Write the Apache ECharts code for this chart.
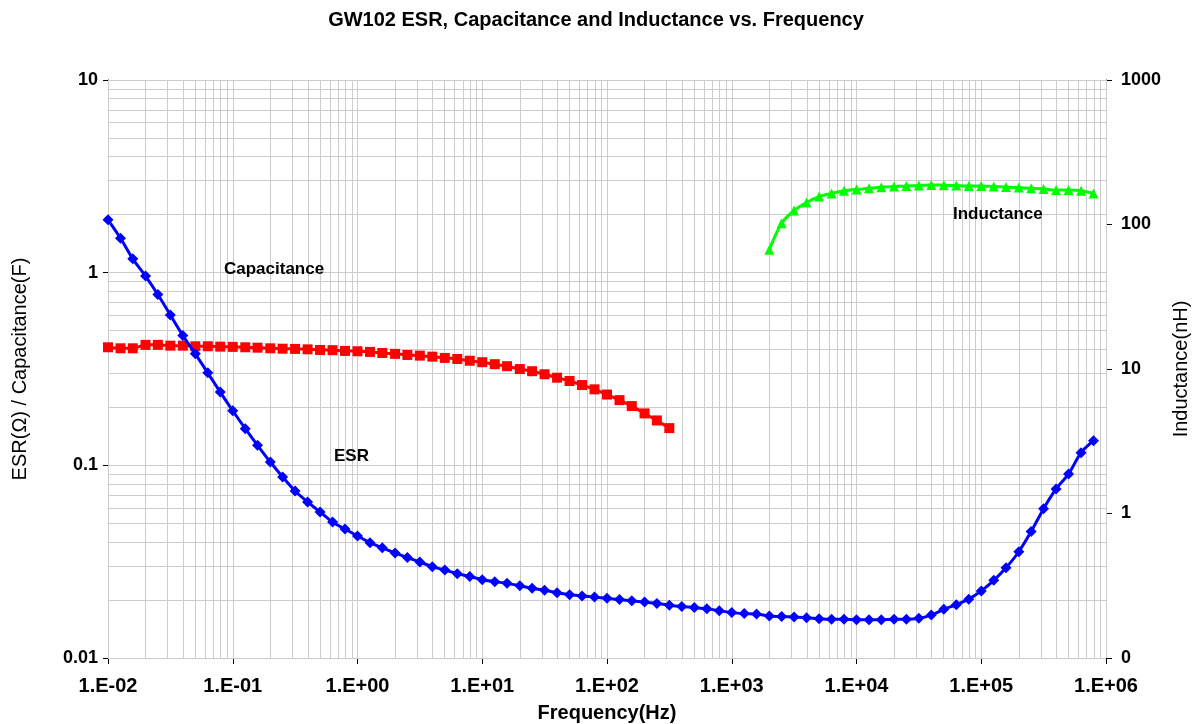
<!DOCTYPE html>
<html><head><meta charset="utf-8">
<script src="https://cdn.jsdelivr.net/npm/echarts@6/dist/echarts.min.js"></script>
<style>html,body{margin:0;padding:0;background:#fff}#c{width:1192px;height:724px}</style>
</head><body><div id="c"></div>
<script>
// Frequencies (Hz), 10 points per decade
const frequencies = [
  1e-2,1.26e-2,1.58e-2,2e-2,2.51e-2,3.16e-2,3.98e-2,5.01e-2,6.31e-2,7.94e-2,
  1e-1,1.26e-1,1.58e-1,2e-1,2.51e-1,3.16e-1,3.98e-1,5.01e-1,6.31e-1,7.94e-1,
  1,1.26,1.58,2,2.51,3.16,3.98,5.01,6.31,7.94,
  10,12.6,15.8,20,25.1,31.6,39.8,50.1,63.1,79.4,
  100,126,158,200,251,316,398,501,631,794,
  1000,1260,1580,2000,2510,3160,3980,5010,6310,7940,
  1e4,1.26e4,1.58e4,2e4,2.51e4,3.16e4,3.98e4,5.01e4,6.31e4,7.94e4,
  1e5,1.26e5,1.58e5,2e5,2.51e5,3.16e5,3.98e5,5.01e5,6.31e5,7.94e5
];
// ESR (Ohm)
const esrValues = [
  1.88,1.51,1.18,0.96,0.77,0.603,0.472,0.379,0.302,0.240,
  0.192,0.155,0.127,0.104,0.0871,0.0736,0.0646,0.0573,0.0508,0.0467,
  0.0430,0.0397,0.0373,0.0351,0.0332,0.0315,0.0298,0.0286,0.0274,0.0265,
  0.0255,0.0249,0.0244,0.0237,0.0230,0.0225,0.0218,0.0213,0.0210,0.0207,
  0.0204,0.0201,0.0198,0.0195,0.0192,0.0188,0.0185,0.0183,0.0180,0.0176,
  0.0172,0.0170,0.0169,0.0165,0.0164,0.0163,0.0162,0.0160,0.0159,0.0159,
  0.0158,0.0158,0.0158,0.0159,0.0159,0.0161,0.0167,0.0179,0.0189,0.0202,
  0.0223,0.0253,0.0294,0.0356,0.0453,0.0596,0.0754,0.0902,0.1164,0.1343
];
// Capacitance (F), from 0.01 Hz to 316 Hz
const capFreq = frequencies.slice(0, 46);
const capValues = [
  0.410,0.405,0.405,0.422,0.422,0.418,0.418,0.415,0.415,0.413,
  0.412,0.410,0.408,0.405,0.403,0.402,0.400,0.397,0.396,0.3925,
  0.391,0.388,0.383,0.379,0.374,0.371,0.3665,0.361,0.3565,0.349,
  0.343,0.335,0.327,0.316,0.308,0.297,0.285,0.274,0.261,0.248,
  0.233,0.218,0.203,0.186,0.171,0.156
];
// Inductance (nH), from 2 kHz to 794 kHz
const indFreq = frequencies.slice(53);
const indValues = [
  67,102,125,142,156,164,171,175,178,181,
  183,185,186,188,187,186,185,185,183,182,
  180,178,176,173,173,171,164
];
const xTickLabels = ['1.E-02','1.E-01','1.E+00','1.E+01','1.E+02','1.E+03','1.E+04','1.E+05','1.E+06'];
const leftTickLabels = ['0.01','0.1','1','10'];
const rightTickLabels = ['0','1','10','100','1000'];

// grid line values (1..9 x each decade)
const gridX = [];
for (let k = -2; k < 6; k++) for (let m = 1; m <= 9; m++) gridX.push(+(m * Math.pow(10, k)).toPrecision(3));
gridX.push(1e6);
const gridY = [];
for (let k = -2; k < 1; k++) for (let m = 1; m <= 9; m++) gridY.push(+(m * Math.pow(10, k)).toPrecision(3));
gridY.push(10);

const FONT = '"Liberation Sans", Arial, sans-serif';
const gridColor = '#cccccc';

const chart = echarts.init(document.getElementById('c'));
chart.setOption({
  animation: false,
  backgroundColor: '#fff',
  title: {
    text: 'GW102 ESR, Capacitance and Inductance vs. Frequency',
    left: 'center', top: 5,
    textStyle: { fontFamily: FONT, fontSize: 20, fontWeight: 'bold', color: '#000' }
  },
  grid: { left: 108, right: 86, top: 80, bottom: 66, containLabel: false, outerBoundsMode: 'none' },
  xAxis: {
    type: 'log', logBase: 10, min: 0.01, max: 1e6, splitNumber: 8,
    name: 'Frequency(Hz)', nameLocation: 'middle', nameGap: 45,
    nameTextStyle: { fontFamily: FONT, fontSize: 20, fontWeight: 'bold', color: '#000' },
    axisLine: { show: true, lineStyle: { color: '#000', width: 1 } },
    axisTick: { show: true, length: 6, lineStyle: { color: '#000' } },
    axisLabel: {
      fontFamily: FONT, fontSize: 20, fontWeight: 'bold', color: '#000', margin: 18,
      formatter: v => xTickLabels[Math.round(Math.log10(v)) + 2]
    },
    splitLine: { show: false }, minorTick: { show: false }, minorSplitLine: { show: false }
  },
  yAxis: [{
    type: 'log', logBase: 10, min: 0.01, max: 10, position: 'left', splitNumber: 3,
    name: 'ESR(Ω) / Capacitance(F)', nameLocation: 'middle', nameGap: 78, nameRotate: 90,
    nameTextStyle: { fontFamily: FONT, fontSize: 20, color: '#000' },
    axisLine: { show: true, lineStyle: { color: '#000', width: 1 } },
    axisTick: { show: true, length: 5, lineStyle: { color: '#000' } },
    axisLabel: { fontFamily: FONT, fontSize: 18, fontWeight: 'bold', color: '#000', margin: 10,
      formatter: v => leftTickLabels[Math.round(Math.log10(v)) + 2] },
    splitLine: { show: false }, minorTick: { show: false }, minorSplitLine: { show: false }
  }, {
    type: 'log', logBase: 10, min: 0.1, max: 1000, position: 'right', splitNumber: 4,
    name: 'Inductance(nH)', nameLocation: 'middle', nameGap: 61, nameRotate: 90,
    nameTextStyle: { fontFamily: FONT, fontSize: 20, color: '#000' },
    axisLine: { show: true, lineStyle: { color: '#000', width: 1 } },
    axisTick: { show: true, length: 6, lineStyle: { color: '#000' } },
    axisLabel: { fontFamily: FONT, fontSize: 18, fontWeight: 'bold', color: '#000', margin: 15,
      formatter: v => rightTickLabels[Math.round(Math.log10(v)) + 1] },
    splitLine: { show: false }, minorTick: { show: false }, minorSplitLine: { show: false }
  }],
  graphic: [
    { type: 'text', left: 224, top: 261, z: 100, style: { text: 'Capacitance', font: 'bold 17px ' + FONT, fill: '#000' } },
    { type: 'text', left: 334, top: 448, z: 100, style: { text: 'ESR', font: 'bold 17px ' + FONT, fill: '#000' } },
    { type: 'text', left: 953, top: 206, z: 100, style: { text: 'Inductance', font: 'bold 17px ' + FONT, fill: '#000' } }
  ],
  series: [{
    name: 'Capacitance', type: 'line', yAxisIndex: 0, z: 3,
    data: capFreq.map((f, i) => [f, capValues[i]]),
    symbol: 'rect', symbolSize: 10,
    itemStyle: { color: '#ff0000' }, lineStyle: { color: '#ff0000', width: 3 },
    smooth: 0.3
  }, {
    name: 'ESR', type: 'line', yAxisIndex: 0, z: 4,
    data: frequencies.map((f, i) => [f, esrValues[i]]),
    symbol: 'diamond', symbolSize: 11,
    itemStyle: { color: '#0000ff' }, lineStyle: { color: '#0000ff', width: 3 },
    smooth: 0.3,
    markLine: {
      silent: true, z: 1, symbol: ['none', 'none'], label: { show: false },
      emphasis: { disabled: true }, animation: false,
      lineStyle: { color: gridColor, width: 1, type: 'solid' },
      data: gridX.map(v => ({ xAxis: v })).concat(gridY.map(v => ({ yAxis: v })))
    }
  }, {
    name: 'Inductance', type: 'line', yAxisIndex: 1, z: 3,
    data: indFreq.map((f, i) => [f, indValues[i]]),
    symbol: 'triangle', symbolSize: 10,
    itemStyle: { color: '#00ff00' }, lineStyle: { color: '#00ff00', width: 3 },
    smooth: 0.3
  }]
});
</script></body></html>
